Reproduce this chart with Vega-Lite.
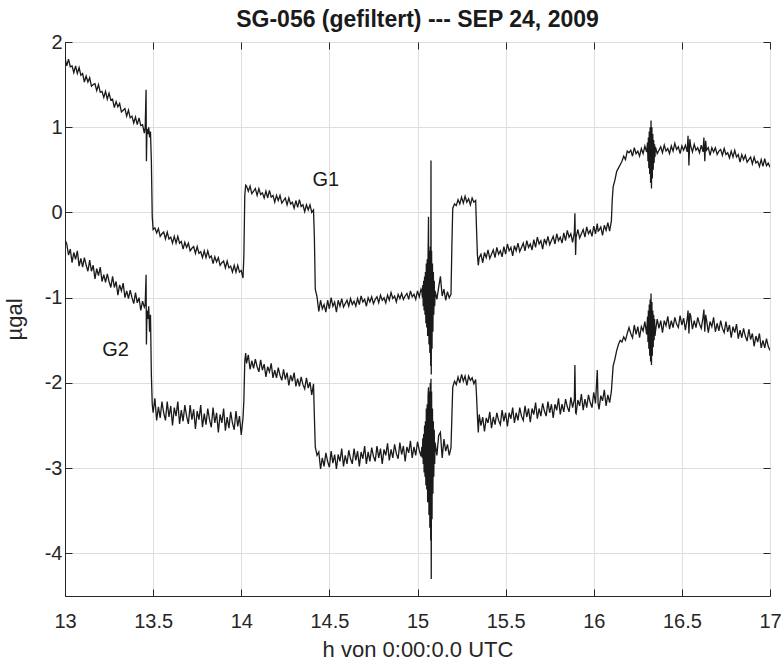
{
"$schema": "https://vega.github.io/schema/vega-lite/v6.json",
"width": 705, "height": 554,
"autosize": {"type": "none"},
"padding": {"left": 65, "top": 42, "right": 13, "bottom": 70},
"background": "white",
"title": {"text": "SG-056 (gefiltert) --- SEP 24, 2009", "font": "Liberation Sans", "fontSize": 23, "fontWeight": "bold", "color": "#1a1a1a", "offset": 0},
"config": {
  "view": {"stroke": "#262626", "strokeWidth": 1},
  "axis": {"labelFont": "Liberation Sans", "labelFontSize": 20, "labelColor": "#262626", "titleFont": "Liberation Sans", "titleFontSize": 22, "titleFontWeight": "normal", "titleColor": "#262626", "domainColor": "#262626", "tickColor": "#262626", "gridColor": "#dedede", "gridWidth": 1, "tickSize": -7}
},
"layer": [
{
"data": {"values": [
{"h":13.00,"G1":1.81,"G2":-0.32},{"h":13.01,"G1":1.72,"G2":-0.37},{"h":13.02,"G1":1.80,"G2":-0.50},{"h":13.03,"G1":1.71,"G2":-0.43},{"h":13.04,"G1":1.72,"G2":-0.59},{"h":13.05,"G1":1.64,"G2":-0.47},{"h":13.06,"G1":1.72,"G2":-0.55},{"h":13.07,"G1":1.63,"G2":-0.45},{"h":13.08,"G1":1.70,"G2":-0.63},{"h":13.09,"G1":1.61,"G2":-0.54},
{"h":13.10,"G1":1.63,"G2":-0.64},{"h":13.11,"G1":1.53,"G2":-0.53},{"h":13.12,"G1":1.60,"G2":-0.62},{"h":13.13,"G1":1.53,"G2":-0.69},{"h":13.14,"G1":1.58,"G2":-0.56},{"h":13.15,"G1":1.48,"G2":-0.69},{"h":13.16,"G1":1.50,"G2":-0.62},{"h":13.17,"G1":1.51,"G2":-0.78},{"h":13.18,"G1":1.43,"G2":-0.66},{"h":13.19,"G1":1.50,"G2":-0.74},
{"h":13.20,"G1":1.41,"G2":-0.64},{"h":13.21,"G1":1.42,"G2":-0.81},{"h":13.22,"G1":1.35,"G2":-0.73},{"h":13.23,"G1":1.42,"G2":-0.82},{"h":13.24,"G1":1.33,"G2":-0.72},{"h":13.25,"G1":1.40,"G2":-0.81},{"h":13.26,"G1":1.32,"G2":-0.88},{"h":13.27,"G1":1.33,"G2":-0.75},{"h":13.28,"G1":1.23,"G2":-0.88},{"h":13.29,"G1":1.30,"G2":-0.81},
{"h":13.30,"G1":1.24,"G2":-0.97},{"h":13.31,"G1":1.28,"G2":-0.85},{"h":13.32,"G1":1.18,"G2":-0.92},{"h":13.33,"G1":1.20,"G2":-0.83},{"h":13.34,"G1":1.22,"G2":-1.00},{"h":13.35,"G1":1.13,"G2":-0.92},{"h":13.36,"G1":1.20,"G2":-1.01},{"h":13.37,"G1":1.11,"G2":-0.91},{"h":13.38,"G1":1.13,"G2":-1.00},{"h":13.39,"G1":1.05,"G2":-1.07},
{"h":13.40,"G1":1.12,"G2":-0.94},{"h":13.41,"G1":1.03,"G2":-1.06},{"h":13.42,"G1":1.11,"G2":-1.00},{"h":13.43,"G1":1.02,"G2":-1.15},{"h":13.44,"G1":1.03,"G2":-1.04},{"h":13.45,"G1":0.93,"G2":-1.11},
{"h":13.455,"G1":1.00,"G2":-1.08},{"h":13.46,"G1":1.44,"G2":-0.73},{"h":13.462,"G1":0.60,"G2":-1.55},{"h":13.465,"G1":0.98,"G2":-1.15},{"h":13.47,"G1":0.92,"G2":-1.25},{"h":13.475,"G1":1.00,"G2":-1.10},{"h":13.48,"G1":0.88,"G2":-1.40},{"h":13.485,"G1":0.95,"G2":-1.20},{"h":13.49,"G1":0.60,"G2":-1.90},{"h":13.495,"G1":-0.05,"G2":-2.25},{"h":13.50,"G1":-0.20,"G2":-2.35},
{"h":13.51,"G1":-0.18,"G2":-2.18},{"h":13.52,"G1":-0.24,"G2":-2.44},{"h":13.53,"G1":-0.19,"G2":-2.28},{"h":13.54,"G1":-0.28,"G2":-2.41},{"h":13.55,"G1":-0.25,"G2":-2.22},{"h":13.56,"G1":-0.23,"G2":-2.35},{"h":13.57,"G1":-0.31,"G2":-2.44},{"h":13.58,"G1":-0.23,"G2":-2.22},{"h":13.59,"G1":-0.31,"G2":-2.40},
{"h":13.60,"G1":-0.29,"G2":-2.27},{"h":13.61,"G1":-0.36,"G2":-2.50},{"h":13.62,"G1":-0.28,"G2":-2.29},{"h":13.63,"G1":-0.36,"G2":-2.39},{"h":13.64,"G1":-0.28,"G2":-2.22},{"h":13.65,"G1":-0.36,"G2":-2.48},{"h":13.66,"G1":-0.34,"G2":-2.32},{"h":13.67,"G1":-0.43,"G2":-2.45},{"h":13.68,"G1":-0.35,"G2":-2.26},{"h":13.69,"G1":-0.41,"G2":-2.39},
{"h":13.70,"G1":-0.36,"G2":-2.48},{"h":13.71,"G1":-0.45,"G2":-2.26},{"h":13.72,"G1":-0.42,"G2":-2.43},{"h":13.73,"G1":-0.40,"G2":-2.31},{"h":13.74,"G1":-0.48,"G2":-2.54},{"h":13.75,"G1":-0.40,"G2":-2.33},{"h":13.76,"G1":-0.48,"G2":-2.43},{"h":13.77,"G1":-0.46,"G2":-2.26},{"h":13.78,"G1":-0.53,"G2":-2.52},{"h":13.79,"G1":-0.45,"G2":-2.36},
{"h":13.80,"G1":-0.53,"G2":-2.49},{"h":13.81,"G1":-0.45,"G2":-2.30},{"h":13.82,"G1":-0.53,"G2":-2.43},{"h":13.83,"G1":-0.51,"G2":-2.52},{"h":13.84,"G1":-0.60,"G2":-2.29},{"h":13.85,"G1":-0.52,"G2":-2.47},{"h":13.86,"G1":-0.58,"G2":-2.35},{"h":13.87,"G1":-0.53,"G2":-2.58},{"h":13.88,"G1":-0.62,"G2":-2.37},{"h":13.89,"G1":-0.59,"G2":-2.47},
{"h":13.90,"G1":-0.57,"G2":-2.30},{"h":13.91,"G1":-0.65,"G2":-2.56},{"h":13.92,"G1":-0.57,"G2":-2.40},{"h":13.93,"G1":-0.65,"G2":-2.53},{"h":13.94,"G1":-0.63,"G2":-2.34},{"h":13.95,"G1":-0.70,"G2":-2.47},{"h":13.96,"G1":-0.62,"G2":-2.55},{"h":13.97,"G1":-0.70,"G2":-2.33},{"h":13.98,"G1":-0.62,"G2":-2.51},{"h":13.99,"G1":-0.70,"G2":-2.39},
{"h":14.00,"G1":-0.68,"G2":-2.61},{"h":14.01,"G1":-0.77,"G2":-2.41},{"h":14.015,"G1":-0.50,"G2":-2.20},{"h":14.02,"G1":0.20,"G2":-1.75},{"h":14.025,"G1":0.32,"G2":-1.65},
{"h":14.03,"G1":0.31,"G2":-1.77},{"h":14.04,"G1":0.25,"G2":-1.67},{"h":14.05,"G1":0.31,"G2":-1.84},{"h":14.06,"G1":0.22,"G2":-1.74},{"h":14.07,"G1":0.25,"G2":-1.83},{"h":14.08,"G1":0.28,"G2":-1.72},{"h":14.09,"G1":0.20,"G2":-1.81},
{"h":14.10,"G1":0.28,"G2":-1.87},{"h":14.11,"G1":0.21,"G2":-1.73},{"h":14.12,"G1":0.23,"G2":-1.85},{"h":14.13,"G1":0.17,"G2":-1.78},{"h":14.14,"G1":0.25,"G2":-1.93},{"h":14.15,"G1":0.17,"G2":-1.81},{"h":14.16,"G1":0.26,"G2":-1.87},{"h":14.17,"G1":0.18,"G2":-1.77},{"h":14.18,"G1":0.20,"G2":-1.94},{"h":14.19,"G1":0.12,"G2":-1.85},
{"h":14.20,"G1":0.20,"G2":-1.94},{"h":14.21,"G1":0.14,"G2":-1.82},{"h":14.22,"G1":0.20,"G2":-1.91},{"h":14.23,"G1":0.11,"G2":-1.97},{"h":14.24,"G1":0.14,"G2":-1.84},{"h":14.25,"G1":0.17,"G2":-1.96},{"h":14.26,"G1":0.09,"G2":-1.88},{"h":14.27,"G1":0.17,"G2":-2.03},{"h":14.28,"G1":0.10,"G2":-1.91},{"h":14.29,"G1":0.12,"G2":-1.98},
{"h":14.30,"G1":0.05,"G2":-1.88},{"h":14.31,"G1":0.14,"G2":-2.04},{"h":14.32,"G1":0.06,"G2":-1.95},{"h":14.33,"G1":0.15,"G2":-2.04},{"h":14.34,"G1":0.07,"G2":-1.93},{"h":14.35,"G1":0.09,"G2":-2.02},{"h":14.36,"G1":0.01,"G2":-2.07},{"h":14.37,"G1":0.09,"G2":-1.94},{"h":14.38,"G1":0.03,"G2":-2.06},{"h":14.39,"G1":0.09,"G2":-1.99},
{"h":14.40,"G1":0.00,"G2":-2.14},{"h":14.41,"G1":0.03,"G2":-2.01},{"h":14.415,"G1":-0.30,"G2":-2.40},{"h":14.42,"G1":-0.90,"G2":-2.75},
{"h":14.43,"G1":-0.99,"G2":-2.85},{"h":14.44,"G1":-1.16,"G2":-2.81},{"h":14.45,"G1":-1.03,"G2":-3.01},{"h":14.46,"G1":-1.13,"G2":-2.88},{"h":14.47,"G1":-1.08,"G2":-2.98},{"h":14.48,"G1":-1.17,"G2":-2.82},{"h":14.49,"G1":-1.03,"G2":-2.92},
{"h":14.50,"G1":-1.13,"G2":-2.99},{"h":14.51,"G1":-1.00,"G2":-2.80},{"h":14.52,"G1":-1.10,"G2":-2.94},{"h":14.53,"G1":-1.05,"G2":-2.84},{"h":14.54,"G1":-1.17,"G2":-3.01},{"h":14.55,"G1":-1.03,"G2":-2.84},{"h":14.56,"G1":-1.10,"G2":-2.92},{"h":14.57,"G1":-1.01,"G2":-2.77},{"h":14.58,"G1":-1.11,"G2":-2.98},{"h":14.59,"G1":-1.07,"G2":-2.85},
{"h":14.60,"G1":-1.03,"G2":-2.95},{"h":14.61,"G1":-1.10,"G2":-2.79},{"h":14.62,"G1":-1.01,"G2":-2.89},{"h":14.63,"G1":-1.08,"G2":-2.95},{"h":14.64,"G1":-1.04,"G2":-2.77},{"h":14.65,"G1":-1.10,"G2":-2.91},{"h":14.66,"G1":-1.01,"G2":-2.80},{"h":14.67,"G1":-1.08,"G2":-2.98},{"h":14.68,"G1":-0.98,"G2":-2.81},{"h":14.69,"G1":-1.05,"G2":-2.89},
{"h":14.70,"G1":-1.02,"G2":-2.74},{"h":14.71,"G1":-1.10,"G2":-2.95},{"h":14.72,"G1":-1.00,"G2":-2.81},{"h":14.73,"G1":-1.05,"G2":-2.92},{"h":14.74,"G1":-0.99,"G2":-2.76},{"h":14.75,"G1":-1.07,"G2":-2.86},{"h":14.76,"G1":-1.02,"G2":-2.92},{"h":14.77,"G1":-0.99,"G2":-2.74},{"h":14.78,"G1":-1.06,"G2":-2.88},{"h":14.79,"G1":-0.97,"G2":-2.77},
{"h":14.80,"G1":-1.03,"G2":-2.95},{"h":14.81,"G1":-1.00,"G2":-2.78},{"h":14.82,"G1":-1.06,"G2":-2.85},{"h":14.83,"G1":-0.97,"G2":-2.71},{"h":14.84,"G1":-1.03,"G2":-2.91},{"h":14.85,"G1":-0.94,"G2":-2.78},{"h":14.86,"G1":-1.01,"G2":-2.88},{"h":14.87,"G1":-0.98,"G2":-2.72},{"h":14.88,"G1":-1.05,"G2":-2.83},{"h":14.89,"G1":-0.96,"G2":-2.89},
{"h":14.90,"G1":-1.01,"G2":-2.70},{"h":14.91,"G1":-0.95,"G2":-2.84},{"h":14.92,"G1":-1.02,"G2":-2.74},{"h":14.93,"G1":-0.98,"G2":-2.92},{"h":14.94,"G1":-0.95,"G2":-2.75},{"h":14.95,"G1":-1.02,"G2":-2.82},{"h":14.96,"G1":-0.92,"G2":-2.68},{"h":14.97,"G1":-0.99,"G2":-2.88},{"h":14.98,"G1":-0.96,"G2":-2.75},{"h":14.99,"G1":-1.02,"G2":-2.85},
{"h":15.00,"G1":-0.92,"G2":-2.69},{"h":15.01,"G1":-0.99,"G2":-2.79},{"h":15.02,"G1":-0.90,"G2":-2.86},
{"h":15.025,"G1":-0.93,"G2":-2.75},{"h":15.0275,"G1":-1.00,"G2":-2.88},{"h":15.03,"G1":-0.85,"G2":-2.65},{"h":15.0325,"G1":-1.10,"G2":-2.95},{"h":15.035,"G1":-0.80,"G2":-2.60},{"h":15.0375,"G1":-1.15,"G2":-3.05},{"h":15.04,"G1":-0.75,"G2":-2.50},{"h":15.0425,"G1":-1.20,"G2":-3.10},{"h":15.045,"G1":-0.70,"G2":-2.45},{"h":15.0475,"G1":-1.30,"G2":-3.20},
{"h":15.05,"G1":-0.60,"G2":-2.30},{"h":15.0525,"G1":-1.35,"G2":-3.25},{"h":15.055,"G1":-0.55,"G2":-2.25},{"h":15.0575,"G1":-1.45,"G2":-3.40},{"h":15.06,"G1":-0.50,"G2":-2.15},{"h":15.0625,"G1":-0.05,"G2":-2.05},{"h":15.065,"G1":-1.55,"G2":-3.55},{"h":15.0675,"G1":-0.45,"G2":-2.10},{"h":15.07,"G1":-1.65,"G2":-3.70},{"h":15.0725,"G1":-0.40,"G2":-2.00},
{"h":15.075,"G1":-1.80,"G2":-3.85},{"h":15.0765,"G1":0.61,"G2":-1.95},{"h":15.078,"G1":-1.90,"G2":-4.30},{"h":15.08,"G1":-0.45,"G2":-2.10},{"h":15.0825,"G1":-1.60,"G2":-3.60},{"h":15.085,"G1":-0.60,"G2":-2.30},{"h":15.0875,"G1":-1.40,"G2":-3.30},{"h":15.09,"G1":-0.70,"G2":-2.45},{"h":15.0925,"G1":-1.20,"G2":-3.10},{"h":15.095,"G1":-0.80,"G2":-2.55},{"h":15.0975,"G1":-1.10,"G2":-2.95},
{"h":15.10,"G1":-0.92,"G2":-2.70},{"h":15.11,"G1":-1.02,"G2":-2.85},{"h":15.12,"G1":-0.88,"G2":-2.62},{"h":15.13,"G1":-0.75,"G2":-2.58},{"h":15.14,"G1":-0.98,"G2":-2.88},{"h":15.15,"G1":-0.90,"G2":-2.66},{"h":15.16,"G1":-1.03,"G2":-2.80},{"h":15.17,"G1":-0.93,"G2":-2.72},{"h":15.18,"G1":-1.00,"G2":-2.85},{"h":15.19,"G1":-0.96,"G2":-2.76},
{"h":15.195,"G1":-0.40,"G2":-2.40},{"h":15.20,"G1":0.05,"G2":-2.05},{"h":15.21,"G1":0.10,"G2":-1.98},{"h":15.22,"G1":0.08,"G2":-2.02},{"h":15.23,"G1":0.15,"G2":-1.93},{"h":15.24,"G1":0.10,"G2":-2.00},{"h":15.25,"G1":0.18,"G2":-1.90},{"h":15.26,"G1":0.11,"G2":-1.98},{"h":15.27,"G1":0.19,"G2":-1.92},{"h":15.28,"G1":0.12,"G2":-2.03},{"h":15.29,"G1":0.16,"G2":-1.92},
{"h":15.30,"G1":0.09,"G2":-1.97},{"h":15.31,"G1":0.17,"G2":-1.94},{"h":15.32,"G1":0.12,"G2":-2.01},{"h":15.33,"G1":0.14,"G2":-1.96},{"h":15.335,"G1":-0.20,"G2":-2.15},{"h":15.34,"G1":-0.50,"G2":-2.40},{"h":15.345,"G1":-0.62,"G2":-2.58},
{"h":15.35,"G1":-0.53,"G2":-2.37},{"h":15.36,"G1":-0.49,"G2":-2.50},{"h":15.37,"G1":-0.59,"G2":-2.40},{"h":15.38,"G1":-0.47,"G2":-2.57},{"h":15.39,"G1":-0.53,"G2":-2.41},
{"h":15.40,"G1":-0.44,"G2":-2.47},{"h":15.41,"G1":-0.54,"G2":-2.34},{"h":15.42,"G1":-0.49,"G2":-2.53},{"h":15.43,"G1":-0.44,"G2":-2.40},{"h":15.44,"G1":-0.53,"G2":-2.49},{"h":15.45,"G1":-0.41,"G2":-2.35},{"h":15.46,"G1":-0.49,"G2":-2.44},{"h":15.47,"G1":-0.45,"G2":-2.49},{"h":15.48,"G1":-0.52,"G2":-2.32},{"h":15.49,"G1":-0.40,"G2":-2.45},
{"h":15.50,"G1":-0.49,"G2":-2.35},{"h":15.51,"G1":-0.37,"G2":-2.51},{"h":15.52,"G1":-0.45,"G2":-2.35},{"h":15.53,"G1":-0.41,"G2":-2.42},{"h":15.54,"G1":-0.51,"G2":-2.29},{"h":15.55,"G1":-0.39,"G2":-2.47},{"h":15.56,"G1":-0.45,"G2":-2.35},{"h":15.57,"G1":-0.36,"G2":-2.44},{"h":15.58,"G1":-0.46,"G2":-2.29},{"h":15.59,"G1":-0.41,"G2":-2.39},
{"h":15.60,"G1":-0.36,"G2":-2.44},{"h":15.61,"G1":-0.45,"G2":-2.27},{"h":15.62,"G1":-0.33,"G2":-2.40},{"h":15.63,"G1":-0.41,"G2":-2.30},{"h":15.64,"G1":-0.37,"G2":-2.46},{"h":15.65,"G1":-0.44,"G2":-2.30},{"h":15.66,"G1":-0.32,"G2":-2.37},{"h":15.67,"G1":-0.41,"G2":-2.23},{"h":15.68,"G1":-0.29,"G2":-2.42},{"h":15.69,"G1":-0.37,"G2":-2.30},
{"h":15.70,"G1":-0.33,"G2":-2.39},{"h":15.71,"G1":-0.43,"G2":-2.24},{"h":15.72,"G1":-0.31,"G2":-2.33},{"h":15.73,"G1":-0.37,"G2":-2.39},{"h":15.74,"G1":-0.28,"G2":-2.22},{"h":15.75,"G1":-0.38,"G2":-2.35},{"h":15.76,"G1":-0.33,"G2":-2.25},{"h":15.77,"G1":-0.28,"G2":-2.41},{"h":15.78,"G1":-0.37,"G2":-2.25},{"h":15.79,"G1":-0.25,"G2":-2.32},
{"h":15.80,"G1":-0.33,"G2":-2.18},{"h":15.81,"G1":-0.29,"G2":-2.37},{"h":15.82,"G1":-0.36,"G2":-2.25},{"h":15.83,"G1":-0.24,"G2":-2.34},{"h":15.84,"G1":-0.33,"G2":-2.19},{"h":15.85,"G1":-0.21,"G2":-2.28},{"h":15.86,"G1":-0.29,"G2":-2.34},{"h":15.87,"G1":-0.25,"G2":-2.17},{"h":15.88,"G1":-0.35,"G2":-2.29},{"h":15.89,"G1":-0.23,"G2":-2.19},
{"h":15.893,"G1":-0.01,"G2":-1.79},{"h":15.897,"G1":-0.50,"G2":-2.35},
{"h":15.90,"G1":-0.29,"G2":-2.36},{"h":15.91,"G1":-0.20,"G2":-2.20},{"h":15.92,"G1":-0.30,"G2":-2.27},{"h":15.93,"G1":-0.25,"G2":-2.13},{"h":15.94,"G1":-0.20,"G2":-2.32},{"h":15.95,"G1":-0.29,"G2":-2.19},{"h":15.96,"G1":-0.17,"G2":-2.29},{"h":15.97,"G1":-0.25,"G2":-2.14},{"h":15.98,"G1":-0.21,"G2":-2.23},{"h":15.99,"G1":-0.28,"G2":-2.29},
{"h":16.00,"G1":-0.16,"G2":-2.11},{"h":16.01,"G1":-0.25,"G2":-2.24},{"h":16.02,"G1":-0.13,"G2":-1.85},{"h":16.025,"G1":-0.22,"G2":-2.25},{"h":16.03,"G1":-0.21,"G2":-2.31},{"h":16.04,"G1":-0.17,"G2":-2.15},{"h":16.05,"G1":-0.27,"G2":-2.21},{"h":16.06,"G1":-0.15,"G2":-2.08},{"h":16.07,"G1":-0.21,"G2":-2.27},{"h":16.08,"G1":-0.12,"G2":-2.14},{"h":16.09,"G1":-0.22,"G2":-2.23},
{"h":16.10,"G1":-0.10,"G2":-2.10},{"h":16.105,"G1":0.15,"G2":-1.95},{"h":16.11,"G1":0.30,"G2":-1.80},{"h":16.12,"G1":0.38,"G2":-1.72},{"h":16.13,"G1":0.48,"G2":-1.62},{"h":16.14,"G1":0.52,"G2":-1.55},{"h":16.15,"G1":0.56,"G2":-1.50},{"h":16.16,"G1":0.60,"G2":-1.52},{"h":16.17,"G1":0.66,"G2":-1.46},{"h":16.18,"G1":0.62,"G2":-1.50},{"h":16.19,"G1":0.72,"G2":-1.42},
{"h":16.20,"G1":0.70,"G2":-1.35},{"h":16.21,"G1":0.73,"G2":-1.42},{"h":16.22,"G1":0.66,"G2":-1.47},{"h":16.23,"G1":0.76,"G2":-1.32},{"h":16.24,"G1":0.69,"G2":-1.43},{"h":16.25,"G1":0.72,"G2":-1.34},{"h":16.26,"G1":0.66,"G2":-1.47},{"h":16.27,"G1":0.75,"G2":-1.34},{"h":16.28,"G1":0.69,"G2":-1.39},{"h":16.29,"G1":0.78,"G2":-1.28},
{"h":16.30,"G1":0.71,"G2":-1.43},{"h":16.305,"G1":0.82,"G2":-1.22},{"h":16.3075,"G1":0.60,"G2":-1.52},{"h":16.31,"G1":0.88,"G2":-1.15},{"h":16.3125,"G1":0.52,"G2":-1.60},{"h":16.315,"G1":0.95,"G2":-1.08},{"h":16.3175,"G1":0.45,"G2":-1.68},{"h":16.32,"G1":1.00,"G2":-1.02},{"h":16.3225,"G1":0.35,"G2":-1.75},{"h":16.325,"G1":1.08,"G2":-0.95},
{"h":16.3275,"G1":0.28,"G2":-1.79},{"h":16.33,"G1":1.00,"G2":-1.05},{"h":16.3325,"G1":0.40,"G2":-1.68},{"h":16.335,"G1":0.92,"G2":-1.15},{"h":16.3375,"G1":0.50,"G2":-1.58},{"h":16.34,"G1":0.85,"G2":-1.20},{"h":16.3425,"G1":0.58,"G2":-1.50},{"h":16.345,"G1":0.80,"G2":-1.25},{"h":16.3475,"G1":0.65,"G2":-1.45},
{"h":16.35,"G1":0.77,"G2":-1.40},{"h":16.36,"G1":0.69,"G2":-1.25},{"h":16.37,"G1":0.73,"G2":-1.36},{"h":16.38,"G1":0.77,"G2":-1.27},{"h":16.39,"G1":0.70,"G2":-1.41},
{"h":16.40,"G1":0.79,"G2":-1.27},{"h":16.41,"G1":0.72,"G2":-1.33},{"h":16.42,"G1":0.75,"G2":-1.22},{"h":16.43,"G1":0.69,"G2":-1.37},{"h":16.44,"G1":0.78,"G2":-1.27},{"h":16.45,"G1":0.72,"G2":-1.35},{"h":16.46,"G1":0.81,"G2":-1.23},{"h":16.47,"G1":0.74,"G2":-1.31},{"h":16.48,"G1":0.77,"G2":-1.35},{"h":16.49,"G1":0.69,"G2":-1.21},
{"h":16.50,"G1":0.78,"G2":-1.32},{"h":16.51,"G1":0.73,"G2":-1.24},{"h":16.52,"G1":0.79,"G2":-1.38},{"h":16.53,"G1":0.71,"G2":-1.25},{"h":16.535,"G1":0.90,"G2":-1.15},{"h":16.54,"G1":0.55,"G2":-1.42},{"h":16.545,"G1":0.86,"G2":-1.18},{"h":16.55,"G1":0.78,"G2":-1.21},{"h":16.56,"G1":0.71,"G2":-1.37},{"h":16.57,"G1":0.80,"G2":-1.27},{"h":16.58,"G1":0.73,"G2":-1.35},{"h":16.59,"G1":0.76,"G2":-1.23},
{"h":16.60,"G1":0.70,"G2":-1.31},{"h":16.61,"G1":0.79,"G2":-1.36},{"h":16.62,"G1":0.71,"G2":-1.23},{"h":16.625,"G1":0.88,"G2":-1.14},{"h":16.63,"G1":0.60,"G2":-1.40},{"h":16.635,"G1":0.84,"G2":-1.20},{"h":16.64,"G1":0.73,"G2":-1.26},{"h":16.65,"G1":0.76,"G2":-1.41},{"h":16.66,"G1":0.67,"G2":-1.28},{"h":16.67,"G1":0.76,"G2":-1.34},{"h":16.68,"G1":0.71,"G2":-1.23},{"h":16.69,"G1":0.76,"G2":-1.40},
{"h":16.70,"G1":0.68,"G2":-1.30},{"h":16.71,"G1":0.72,"G2":-1.39},{"h":16.72,"G1":0.74,"G2":-1.27},{"h":16.73,"G1":0.67,"G2":-1.36},{"h":16.74,"G1":0.75,"G2":-1.41},{"h":16.75,"G1":0.68,"G2":-1.28},{"h":16.76,"G1":0.70,"G2":-1.40},{"h":16.77,"G1":0.64,"G2":-1.32},{"h":16.78,"G1":0.72,"G2":-1.47},{"h":16.79,"G1":0.65,"G2":-1.34},
{"h":16.80,"G1":0.73,"G2":-1.41},{"h":16.81,"G1":0.65,"G2":-1.31},{"h":16.82,"G1":0.68,"G2":-1.48},{"h":16.83,"G1":0.59,"G2":-1.38},{"h":16.84,"G1":0.68,"G2":-1.47},{"h":16.85,"G1":0.62,"G2":-1.36},{"h":16.86,"G1":0.67,"G2":-1.45},{"h":16.87,"G1":0.59,"G2":-1.51},{"h":16.88,"G1":0.62,"G2":-1.37},{"h":16.89,"G1":0.65,"G2":-1.49},
{"h":16.90,"G1":0.57,"G2":-1.42},{"h":16.91,"G1":0.65,"G2":-1.57},{"h":16.92,"G1":0.58,"G2":-1.45},{"h":16.93,"G1":0.60,"G2":-1.52},{"h":16.94,"G1":0.54,"G2":-1.42},{"h":16.95,"G1":0.62,"G2":-1.59},{"h":16.96,"G1":0.54,"G2":-1.50},{"h":16.97,"G1":0.63,"G2":-1.59},{"h":16.98,"G1":0.55,"G2":-1.48},{"h":16.99,"G1":0.58,"G2":-1.57},
{"h":17.00,"G1":0.53,"G2":-1.62}
]},
"transform": [{"fold": ["G1", "G2"], "as": ["serie", "v"]}],
"mark": {"type": "line", "color": "#1a1a1a", "strokeWidth": 1.3, "clip": true},
"encoding": {
  "x": {"field": "h", "type": "quantitative", "scale": {"domain": [13, 17], "nice": false, "zero": false},
        "axis": {"orient": "bottom", "values": [13, 13.5, 14, 14.5, 15, 15.5, 16, 16.5, 17], "labelExpr": "'' + datum.value", "title": "h von 0:00:0.0 UTC", "grid": true, "labelPadding": 22, "titlePadding": 8, "labelFlush": false}},
  "y": {"field": "v", "type": "quantitative", "scale": {"domain": [-4.5, 2], "nice": false, "zero": false},
        "axis": {"orient": "left", "values": [-4, -3, -2, -1, 0, 1, 2], "labelExpr": "'' + datum.value", "title": "µgal", "grid": true, "labelPadding": 10, "titlePadding": 18, "labelFlush": false}},
  "detail": {"field": "serie"}
}
},
{
"data": {"values": [{"h": 14.48, "v": 0.38, "label": "G1"}, {"h": 13.287, "v": -1.61, "label": "G2"}]},
"mark": {"type": "text", "font": "Liberation Sans", "fontSize": 20, "color": "#1a1a1a", "align": "center", "baseline": "middle"},
"encoding": {
  "x": {"field": "h", "type": "quantitative", "scale": {"domain": [13, 17], "nice": false, "zero": false},
        "axis": {"orient": "top", "values": [13, 13.5, 14, 14.5, 15, 15.5, 16, 16.5, 17], "labels": false, "title": null, "grid": false, "domain": false}},
  "y": {"field": "v", "type": "quantitative", "scale": {"domain": [-4.5, 2], "nice": false, "zero": false},
        "axis": {"orient": "right", "values": [-4, -3, -2, -1, 0, 1, 2], "labels": false, "title": null, "grid": false, "domain": false}},
  "text": {"field": "label"}
}
}
],
"resolve": {"axis": {"x": "independent", "y": "independent"}}
}
